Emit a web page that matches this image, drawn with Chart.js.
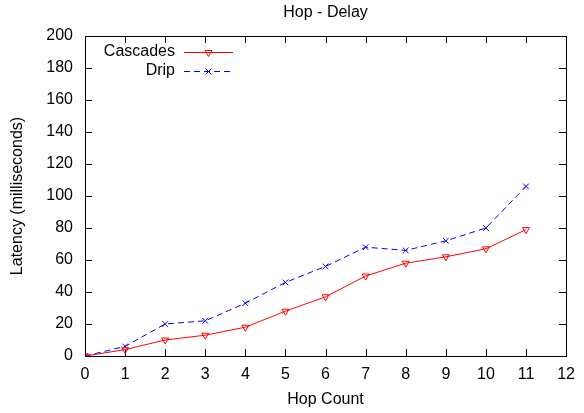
<!DOCTYPE html>
<html>
<head>
<meta charset="utf-8">
<script src="https://cdn.jsdelivr.net/npm/chart.js@4/dist/chart.umd.min.js"></script>
<style>
    body { margin: 0; background: #fff; }
    #grafico { display: block; }
</style>
</head>
<body>
<canvas id="grafico" width="584" height="413"></canvas>
<script>
// datos
var hops = [0, 1, 2, 3, 4, 5, 6, 7, 8, 9, 10, 11];
var cascades = [0, 4, 10, 13, 18, 28, 37, 50, 58, 62, 67, 79];
var drip = [0, 6, 20, 22, 33, 46, 56, 68, 66, 72, 80, 106];
var seriesNames = ['Cascades', 'Drip'];
var titulo = 'Hop - Delay';

var fuente = 'Liberation Sans, Arial, sans-serif';

function puntos(valores) {
    return hops.map(function (h, i) { return { x: h, y: valores[i] }; });
}

// marco, marcas hacia adentro y titulo centrado sobre el area, como gnuplot
var marcoPlugin = {
    id: 'marco',
    beforeDatasetsDraw: function (chart) {
        var ctx = chart.ctx;
        var a = chart.chartArea;
        var sx = chart.scales.x;
        var sy = chart.scales.y;
        var largo = 7;
        ctx.save();
        ctx.strokeStyle = '#000';
        ctx.lineWidth = 1;
        ctx.beginPath();
        sx.ticks.forEach(function (t) {
            var px = Math.round(sx.getPixelForValue(t.value)) + 0.5;
            ctx.moveTo(px, a.bottom);
            ctx.lineTo(px, a.bottom - largo);
            ctx.moveTo(px, a.top);
            ctx.lineTo(px, a.top + largo);
        });
        sy.ticks.forEach(function (t) {
            var py = Math.round(sy.getPixelForValue(t.value)) + 0.5;
            ctx.moveTo(a.left, py);
            ctx.lineTo(a.left + largo, py);
            ctx.moveTo(a.right, py);
            ctx.lineTo(a.right - largo, py);
        });
        ctx.stroke();
        ctx.strokeRect(Math.round(a.left) + 0.5, Math.round(a.top) + 0.5,
            Math.round(a.right - a.left), Math.round(a.bottom - a.top));

        ctx.font = '16px ' + fuente;
        ctx.fillStyle = '#000';
        ctx.textAlign = 'center';
        ctx.textBaseline = 'middle';
        ctx.fillText(titulo, (a.left + a.right) / 2, 13);
        ctx.restore();
    }
};

// leyenda estilo gnuplot: texto a la derecha y luego la muestra
var leyendaPlugin = {
    id: 'leyenda',
    afterDatasetsDraw: function (chart) {
        var ctx = chart.ctx;
        var a = chart.chartArea;
        var textoX = a.left + 90;
        var lineaIni = a.left + 99;
        var lineaFin = a.left + 148;
        ctx.save();
        chart.data.datasets.forEach(function (ds, i) {
            var y = Math.round(a.top + 16 + i * 19) + 0.5;
            ctx.font = '16px ' + fuente;
            ctx.fillStyle = '#000';
            ctx.textAlign = 'right';
            ctx.textBaseline = 'middle';
            ctx.fillText(ds.label, textoX, y - 1);
            ctx.strokeStyle = ds.borderColor;
            ctx.lineWidth = 1;
            ctx.setLineDash(ds.borderDash || []);
            ctx.beginPath();
            ctx.moveTo(lineaIni, y);
            ctx.lineTo(lineaFin, y);
            ctx.stroke();
            ctx.setLineDash([]);
            ctx.strokeStyle = ds.pointBorderColor;
            ctx.fillStyle = 'rgba(0,0,0,0)';
            Chart.helpers.drawPoint(ctx, {
                pointStyle: ds.pointStyle,
                rotation: ds.pointRotation || 0,
                radius: ds.pointRadius,
                borderWidth: 1
            }, (lineaIni + lineaFin) / 2, y);
        });
        ctx.restore();
    }
};

var config = {
    type: 'line',
    data: {
        datasets: [{
            label: seriesNames[0],
            data: puntos(cascades),
            borderColor: '#ff0000',
            backgroundColor: 'rgba(0,0,0,0)',
            borderWidth: 1,
            pointStyle: 'triangle',
            pointRotation: 180,
            pointRadius: 4,
            pointBorderColor: '#ff0000',
            pointBackgroundColor: 'rgba(0,0,0,0)',
            pointBorderWidth: 1,
            tension: 0
        }, {
            label: seriesNames[1],
            data: puntos(drip),
            borderColor: '#0000ff',
            backgroundColor: 'rgba(0,0,0,0)',
            borderWidth: 1,
            borderDash: [6, 4],
            pointStyle: 'crossRot',
            pointRadius: 4,
            pointBorderColor: '#0000ff',
            pointBorderWidth: 1,
            tension: 0
        }]
    },
    options: {
        responsive: false,
        animation: false,
        devicePixelRatio: 1,
        layout: { padding: { left: 0, right: 12, top: 36, bottom: 0 } },
        plugins: {
            legend: { display: false },
            tooltip: { enabled: false },
            title: { display: false }
        },
        scales: {
            x: {
                type: 'linear',
                min: 0,
                max: 12,
                afterFit: function (s) { s.height = 57; },
                ticks: { stepSize: 1, color: '#000', padding: 9, font: { family: fuente, size: 16 } },
                grid: { drawOnChartArea: false, drawTicks: false },
                border: { display: false },
                title: {
                    display: true,
                    text: 'Hop Count',
                    color: '#000',
                    font: { family: fuente, size: 16 },
                    padding: { top: 0, bottom: 4 }
                }
            },
            y: {
                min: 0,
                max: 200,
                afterFit: function (s) { s.width = 85; },
                ticks: { stepSize: 20, color: '#000', padding: 12, font: { family: fuente, size: 16 } },
                grid: { drawOnChartArea: false, drawTicks: false },
                border: { display: false },
                title: {
                    display: true,
                    text: 'Latency (milliseconds)',
                    color: '#000',
                    font: { family: fuente, size: 16 },
                    padding: { top: 8, bottom: 0 }
                }
            }
        }
    },
    plugins: [marcoPlugin, leyendaPlugin]
};

new Chart(document.getElementById('grafico').getContext('2d'), config);
</script>
</body>
</html>
